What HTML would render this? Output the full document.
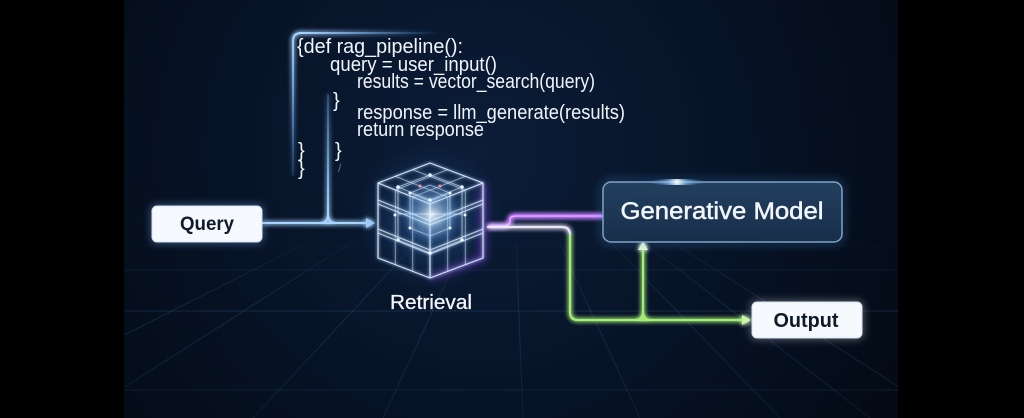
<!DOCTYPE html>
<html><head><meta charset="utf-8"><style>
html,body{margin:0;padding:0;background:#000;width:1024px;height:418px;overflow:hidden}
svg{display:block}
text{font-family:"Liberation Sans",sans-serif}
</style></head><body>
<svg width="1024" height="418" viewBox="0 0 1024 418" xmlns="http://www.w3.org/2000/svg">
<defs>
<radialGradient id="bg" cx="480" cy="150" r="520" gradientUnits="userSpaceOnUse">
<stop offset="0" stop-color="#0c1d38"/>
<stop offset="0.45" stop-color="#071428"/>
<stop offset="1" stop-color="#030912"/>
</radialGradient>
<radialGradient id="cubeglow" cx="430" cy="218" r="75" gradientUnits="userSpaceOnUse">
<stop offset="0" stop-color="#4a98f0" stop-opacity="0.4"/>
<stop offset="1" stop-color="#1a4a90" stop-opacity="0"/>
</radialGradient>
<radialGradient id="core" cx="432" cy="215" r="32" gradientUnits="userSpaceOnUse">
<stop offset="0" stop-color="#ffffff" stop-opacity="0.85"/>
<stop offset="0.35" stop-color="#bfe2ff" stop-opacity="0.5"/>
<stop offset="1" stop-color="#4a90e0" stop-opacity="0"/>
</radialGradient>
<radialGradient id="hl" cx="677" cy="182" r="30" gradientUnits="userSpaceOnUse">
<stop offset="0" stop-color="#ffffff" stop-opacity="1"/>
<stop offset="0.3" stop-color="#9fd0ff" stop-opacity="0.6"/>
<stop offset="1" stop-color="#3a80d0" stop-opacity="0"/>
</radialGradient>
<linearGradient id="gmfill" x1="0" y1="0" x2="0" y2="1">
<stop offset="0" stop-color="#23405f"/>
<stop offset="1" stop-color="#172e4a"/>
</linearGradient>
<linearGradient id="vtop" x1="0" y1="33" x2="0" y2="175" gradientUnits="userSpaceOnUse">
<stop offset="0" stop-color="#a8d4ff" stop-opacity="1"/>
<stop offset="1" stop-color="#5a9ce0" stop-opacity="0.15"/>
</linearGradient>
<linearGradient id="htop" x1="300" y1="0" x2="440" y2="0" gradientUnits="userSpaceOnUse">
<stop offset="0" stop-color="#a8d4ff" stop-opacity="1"/>
<stop offset="1" stop-color="#5a9ce0" stop-opacity="0"/>
</linearGradient>
<linearGradient id="v2" x1="0" y1="95" x2="0" y2="215" gradientUnits="userSpaceOnUse">
<stop offset="0" stop-color="#6aa8e8" stop-opacity="0.25"/>
<stop offset="1" stop-color="#a8d4ff" stop-opacity="1"/>
</linearGradient>
<linearGradient id="gridfade" x1="0" y1="240" x2="0" y2="418" gradientUnits="userSpaceOnUse">
<stop offset="0" stop-color="#3f6a9a" stop-opacity="0.08"/>
<stop offset="0.4" stop-color="#3f6a9a" stop-opacity="0.25"/>
<stop offset="1" stop-color="#3f6a9a" stop-opacity="0.15"/>
</linearGradient>
<filter id="glow" filterUnits="userSpaceOnUse" x="0" y="0" width="1024" height="418">
<feGaussianBlur stdDeviation="2.5" result="b"/>
<feMerge><feMergeNode in="b"/><feMergeNode in="b"/><feMergeNode in="SourceGraphic"/></feMerge>
</filter>
<filter id="glow2" filterUnits="userSpaceOnUse" x="0" y="0" width="1024" height="418">
<feGaussianBlur stdDeviation="1.5" result="b"/>
<feMerge><feMergeNode in="b"/><feMergeNode in="SourceGraphic"/></feMerge>
</filter>
<filter id="soft" filterUnits="userSpaceOnUse" x="0" y="0" width="1024" height="418">
<feGaussianBlur stdDeviation="4"/>
</filter>
<clipPath id="floor"><rect x="124" y="242" width="774" height="176"/></clipPath>
</defs>

<rect width="1024" height="418" fill="#000"/>
<rect x="124" y="0" width="774" height="418" fill="url(#bg)"/>

<g clip-path="url(#floor)" stroke="url(#gridfade)" stroke-width="1" fill="none">
<line x1="124" y1="270" x2="898" y2="270"/>
<line x1="124" y1="311" x2="898" y2="311"/>
<line x1="124" y1="390" x2="898" y2="390"/>
<line x1="124" y1="246" x2="898" y2="246" stroke-opacity="0.5"/>
<line x1="512" y1="140" x2="-41" y2="418"/>
<line x1="512" y1="140" x2="76" y2="418"/>
<line x1="512" y1="140" x2="253" y2="418"/>
<line x1="512" y1="140" x2="383" y2="418"/>
<line x1="512" y1="140" x2="523" y2="418"/>
<line x1="512" y1="140" x2="640" y2="418"/>
<line x1="512" y1="140" x2="780" y2="418"/>
<line x1="512" y1="140" x2="870" y2="418"/>
<line x1="512" y1="140" x2="948" y2="418"/>
</g>

<g filter="url(#glow)" fill="none" stroke-width="2" stroke-linecap="round">
<path d="M293,175 V41 Q293,33 301,33" stroke="url(#vtop)"/>
<line x1="301" y1="33" x2="440" y2="33" stroke="url(#htop)"/>
<line x1="328" y1="95" x2="328" y2="215" stroke="url(#v2)"/>
</g>

<g fill="#f0f5fc" font-size="20">
<text x="297" y="53" textLength="166" lengthAdjust="spacingAndGlyphs">{def rag_pipeline():</text>
<text x="330" y="71" textLength="167" lengthAdjust="spacingAndGlyphs">query = user_input()</text>
<text x="357" y="88" textLength="238" lengthAdjust="spacingAndGlyphs">results = vector_search(query)</text>
<text x="333" y="107">}</text>
<text x="357" y="119" textLength="268" lengthAdjust="spacingAndGlyphs">response = llm_generate(results)</text>
<text x="357" y="136" textLength="127" lengthAdjust="spacingAndGlyphs">return response</text>
<text x="298" y="157">}</text>
<text x="335" y="157">}</text>
<text x="298" y="175">}</text>
<text x="338" y="172" font-size="12" fill-opacity="0.4">/</text>
</g>

<g filter="url(#glow)" fill="none" stroke="#a8d4ff" stroke-width="2">
<line x1="262" y1="223" x2="368" y2="223"/>
<path d="M320,223 Q328,223 328,215"/>
<path d="M336,223 Q328,223 328,215"/>
<path d="M366,218 L375,223 L366,228 Z" fill="#a8d4ff" stroke="none"/>
</g>

<rect x="150" y="204" width="114" height="40" rx="7" fill="#7fb4ff" opacity="0.35" filter="url(#soft)"/>
<rect x="152" y="206" width="110" height="36" rx="5" fill="#f6f9fd" stroke="#d2e2f2" stroke-width="1"/>
<text x="207" y="230" font-size="19" font-weight="bold" fill="#0e1a2a" text-anchor="middle" textLength="54" lengthAdjust="spacingAndGlyphs">Query</text>

<circle cx="430" cy="218" r="75" fill="url(#cubeglow)"/>
<path d="M483,183 L483,258 L430,278" stroke="#a040ff" stroke-width="5" fill="none" opacity="0.6" filter="url(#soft)"/>
<g filter="url(#glow2)" fill="none" stroke="#cfe6ff" stroke-width="1.2" stroke-linejoin="round">
<path d="M430,163 L483,183 L430,204 L378,183 Z"/>
<path d="M378,183 L378,258 L430,278 L483,258 L483,183"/>
<line x1="430" y1="204" x2="430" y2="278"/>
<g stroke-opacity="0.85">
<path d="M378,200 L430,221 L483,200"/>
<path d="M378,204 L430,225 L483,204"/>
<path d="M378,229 L430,250 L483,229"/>
<path d="M378,233 L430,254 L483,233"/>
</g>
<g stroke-opacity="0.6" stroke-width="0.9">
<line x1="412.7" y1="169.7" x2="465.3" y2="190"/>
<line x1="395.3" y1="176.3" x2="447.7" y2="197"/>
<line x1="447.7" y1="169.7" x2="395.3" y2="190"/>
<line x1="465.3" y1="176.3" x2="412.7" y2="197"/>
<line x1="395.3" y1="190" x2="395.3" y2="264.7"/>
<line x1="412.7" y1="197" x2="412.7" y2="271.3"/>
<line x1="447.7" y1="197" x2="447.7" y2="271.3"/>
<line x1="465.3" y1="190" x2="465.3" y2="264.7"/>
</g>
<g stroke-opacity="0.7" stroke-width="0.9">
<path d="M430,175 L462,187 L430,200 L398,187 Z"/>
<path d="M398,187 L398,240 L430,253 L462,240 L462,187"/>
<line x1="430" y1="200" x2="430" y2="253"/>
<path d="M430,185 L450,193 L430,201 L410,193 Z"/>
<path d="M410,193 L410,228 L430,236 L450,228 L450,193"/>
<line x1="398" y1="214" x2="462" y2="214"/>
</g>
</g>
<circle cx="432" cy="215" r="32" fill="url(#core)"/>
<g fill="#e6f4ff">
<circle cx="430" cy="175" r="1.8"/><circle cx="462" cy="187" r="1.8"/><circle cx="398" cy="187" r="1.8"/>
<circle cx="430" cy="200" r="1.8"/><circle cx="398" cy="240" r="1.8"/><circle cx="462" cy="240" r="1.8"/>
<circle cx="430" cy="253" r="1.8"/><circle cx="410" cy="193" r="1.5"/><circle cx="450" cy="193" r="1.5"/>
<circle cx="410" cy="228" r="1.5"/><circle cx="450" cy="228" r="1.5"/><circle cx="395" cy="215" r="1.5"/>
<circle cx="465" cy="215" r="1.5"/><circle cx="420" cy="186" r="1.5" fill="#ff8fa8"/><circle cx="440" cy="186" r="1.5" fill="#ff8fa8"/>
</g>
<text x="431" y="309" font-size="20" fill="#f2f6fb" text-anchor="middle" stroke="#f2f6fb" stroke-width="0.3" textLength="82" lengthAdjust="spacingAndGlyphs">Retrieval</text>

<g filter="url(#glow)" fill="none" stroke-linecap="round">
<path d="M490,226 H503 Q510,226 510,220 Q510,216 516,216 H603" stroke="#b45cff" stroke-width="3.5"/>
<path d="M490,226 H503 Q510,226 510,220 Q510,216 516,216 H603" stroke="#e2c4ff" stroke-width="1.2"/>
</g>

<g filter="url(#glow)" fill="none" stroke-width="2.2" stroke-linecap="round">
<path d="M488,227 H562 Q570,227 570,235" stroke="#ece6f8"/>
<path d="M570,235 V312 Q570,320 578,320 H744" stroke="#a6ee78"/>
<path d="M643,248 V312" stroke="#a6ee78"/>
<path d="M635,320 Q643,320 643,312" stroke="#a6ee78"/>
<path d="M651,320 Q643,320 643,312" stroke="#a6ee78"/>
<path d="M742,315 L751,320 L742,325 Z" fill="#c8f5a8" stroke="none"/>
<path d="M638,250 L643,241 L648,250 Z" fill="#e6f8d8" stroke="none"/>
</g>

<rect x="601" y="180" width="243" height="64" rx="10" fill="none" stroke="#4a8ad0" stroke-width="3" opacity="0.45" filter="url(#soft)"/>
<rect x="603" y="182" width="239" height="60" rx="8" fill="url(#gmfill)" stroke="#7fa3c8" stroke-width="1.5"/>
<ellipse cx="677" cy="182" rx="30" ry="3" fill="url(#hl)"/>
<text x="722" y="219" font-size="24" fill="#f2f6fb" stroke="#f2f6fb" stroke-width="0.5" text-anchor="middle" textLength="203" lengthAdjust="spacingAndGlyphs">Generative Model</text>

<rect x="750" y="300" width="114" height="40" rx="7" fill="#ffffff" opacity="0.3" filter="url(#soft)"/>
<rect x="752" y="302" width="110" height="36" rx="5" fill="#f6f9fd" stroke="#d2e2f2" stroke-width="1"/>
<text x="806" y="327" font-size="20" font-weight="bold" fill="#0e1a2a" text-anchor="middle" textLength="65" lengthAdjust="spacingAndGlyphs">Output</text>
</svg>
</body></html>
